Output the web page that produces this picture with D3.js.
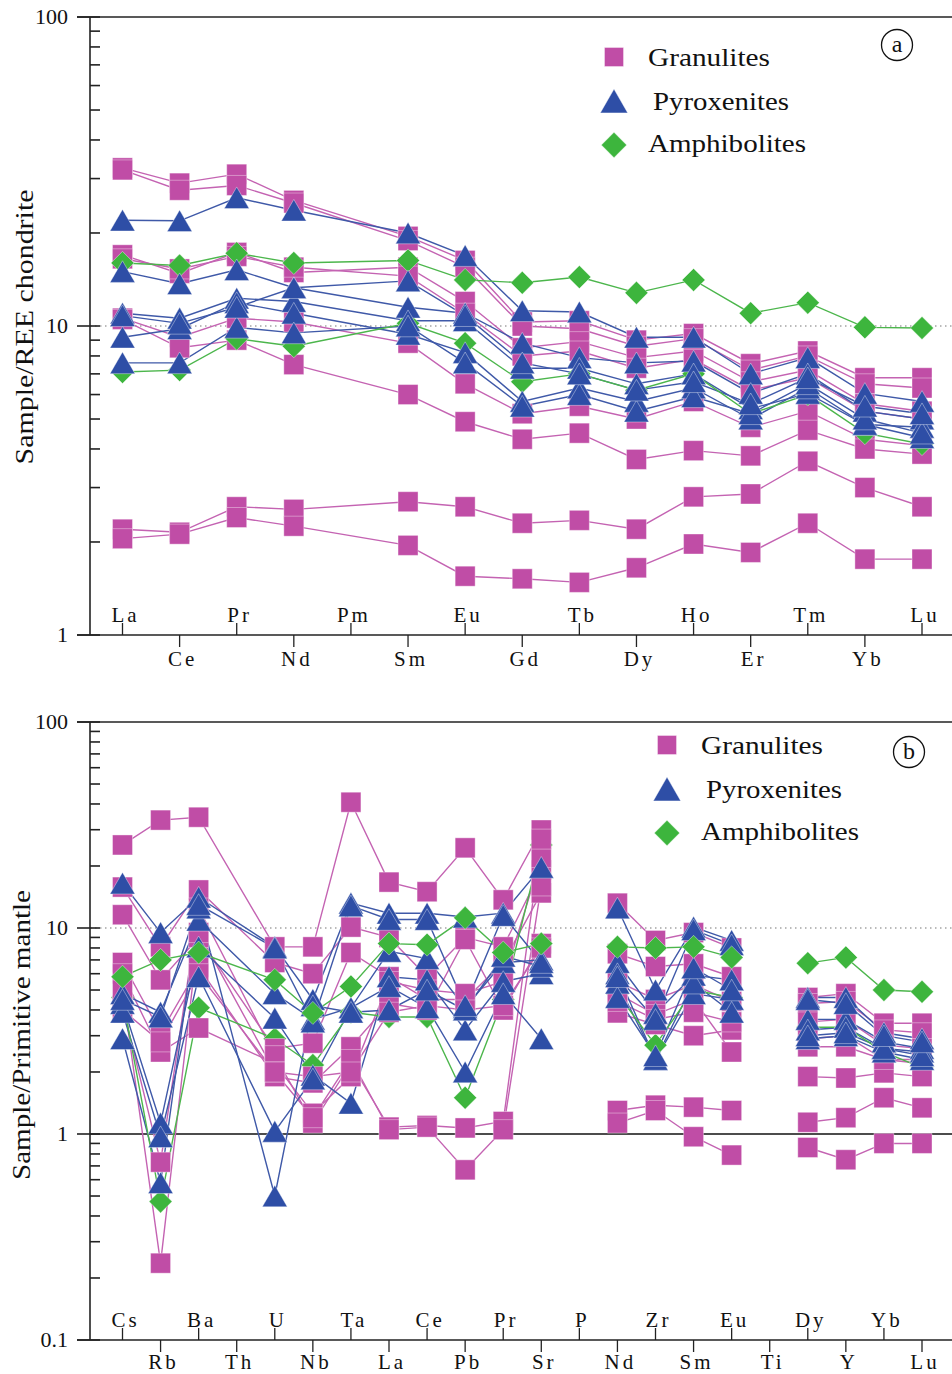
<!DOCTYPE html>
<html><head><meta charset="utf-8">
<script src="https://cdn.jsdelivr.net/npm/d3@7"></script>
<style>
body{margin:0;background:#fff}
svg{display:block}
text{font-family:"Liberation Serif","Times New Roman",serif;fill:#111}
</style></head>
<body><svg id="c" width="952" height="1374" font-family="Liberation Serif"></svg>
<script>
// ---------- Data ----------
const catsA = ["La","Ce","Pr","Nd","Pm","Sm","Eu","Gd","Tb","Dy","Ho","Er","Tm","Yb","Lu"];
const catsB = ["Cs","Rb","Ba","Th","U","Nb","Ta","La","Ce","Pb","Pr","Sr","P","Nd","Zr","Sm","Eu","Ti","Dy","Y","Yb","Lu"];
const breakCatsB = ["P","Ti"];

const yTicksA = [1, 10, 100];
const yTickLabelsA = ["1", "10", "100"];
const yTicksB = [0.1, 1, 10, 100];
const yTickLabelsB = ["0.1", "1", "10", "100"];

const legendNames = ["Granulites", "Pyroxenites", "Amphibolites"];

// Panel (a): chondrite-normalised REE
const granulitesA = [
  [32.5, 29, 31, 25.5, null, 19.5, 16.3, 10.3, 10.4, 9.0, 9.45, 7.55, 8.3, 6.8, 6.8],
  [32.0, 27.5, 28.5, 25.0, null, 18.9, 15.5, 10.0, 9.8, 8.6, 9.1, 7.2, 8.0, 6.5, 6.3],
  [17.0, 14.8, 17.3, 14.9, null, 15.5, 12.0, 8.5, 8.9, 7.9, 8.3, 6.6, 7.2, 5.6, 5.3],
  [16.5, 15.3, 16.8, 15.5, null, 14.5, 11.0, 8.0, 8.3, 7.3, 7.8, 6.2, 6.8, 5.3, 5.0],
  [10.6, 9.2, 10.6, 10.3, null, 8.8, 6.5, 5.2, 5.5, 5.0, 5.7, 4.7, 5.3, 4.3, 4.1],
  [10.5, 8.5, 9.0, 7.5, null, 6.0, 4.9, 4.3, 4.5, 3.7, 3.95, 3.8, 4.6, 4.0, 3.85],
  [2.2, 2.15, 2.6, 2.55, null, 2.7, 2.6, 2.3, 2.35, 2.2, 2.8, 2.86, 3.65, 3.0, 2.6],
  [2.05, 2.12, 2.4, 2.25, null, 1.95, 1.55, 1.52, 1.48, 1.65, 1.97, 1.85, 2.3, 1.76, 1.76]
];
const pyroxenitesA = [
  [22, 21.9, 26, 23.7, null, 20, 16.9, 11.2, 11.1, 9.2, 9.2, 7.0, 7.9, 6.05, 5.7],
  [15, 13.7, 15.2, 13.3, null, 11.5, 11.0, 8.8, 7.9, 7.6, 7.7, 6.05, 7.0, 5.3, 5.0],
  [11, 10.6, 12.3, 12.0, null, 10.4, 10.4, 7.3, 7.3, 6.5, 7.0, 5.4, 6.05, 4.8, 4.7],
  [9.2, 9.8, 11.9, 11.0, null, 9.4, 8.2, 5.7, 6.3, 5.7, 6.3, 5.0, 6.3, 4.8, 4.35],
  [7.6, 7.6, 9.9, 9.5, null, 10.0, 7.6, 5.5, 6.0, 5.3, 5.9, 5.2, 6.5, 5.0, 4.5],
  [10.8, 10.2, 11.5, 13.3, null, 14.0, 10.8, 7.6, 7.0, 6.2, 6.6, 5.6, 6.8, 5.5, 5.2]
];
const amphibolitesA = [
  [16, 15.7, 17.2, 16, null, 16.3, 14.1, 13.8, 14.4, 12.8, 14.1, 11, 11.9, 9.9, 9.85],
  [7.1, 7.2, 9.1, 8.6, null, 10.2, 8.8, 6.6, 7.0, 6.2, 7.0, 5.2, 6.0, 4.5, 4.15]
];

// Panel (b): primitive-mantle-normalised trace elements
const granulitesB = [
  [25.3, 33.4, 34.5, null, 8.1, 8.1, 40.8, 16.7, 15.0, 24.5, 13.7, 29.9, null, 13.2, 8.7, 9.5, 8.0, null, 4.6, 4.8, 3.45, 3.45],
  [15.8, 8.1, 15.3, null, 6.8, 6.0, 10.1, 9.0, 5.8, 9.0, 8.1, 19.1, null, 7.5, 6.5, 6.7, 5.8, null, 4.3, 4.4, 3.2, 3.1],
  [11.6, 5.6, 9.0, null, 2.6, 2.76, 7.6, 5.8, 4.5, 4.5, 6.8, 14.8, null, 5.5, 4.5, 5.3, 4.4, null, 3.5, 3.6, 2.7, 2.6],
  [6.8, 3.1, 6.45, null, 1.9, 1.77, 2.65, 4.3, 4.0, 8.8, 4.0, 8.4, null, 3.87, 3.4, 3.0, 3.2, null, 2.65, 2.65, 2.3, 2.2],
  [6.0, 2.5, 3.27, null, 2.2, 1.26, 1.9, 5.5, 5.0, 4.8, 5.5, 22, null, 4.8, 3.8, 4.5, 2.5, null, 1.9, 1.87, 1.98, 1.9],
  [4.2, 0.73, 12.5, null, 2.4, 1.13, 2.2, 1.08, 1.1, 1.07, 1.15, 27, null, 1.3, 1.38, 1.35, 1.3, null, 1.14, 1.2, 1.5, 1.34],
  [5.0, 0.236, 9.5, null, 2.0, 1.2, 2.3, 1.05, 1.08, 0.67, 1.05, 16, null, 1.13, 1.3, 0.97, 0.79, null, 0.86, 0.75, 0.9, 0.9],
  [4.0, 2.8, 6.0, null, 2.0, 1.9, 2.0, 3.9, 4.2, 4.0, 4.2, 8.0, null, 4.4, 3.6, 3.9, 3.5, null, 2.9, 3.0, 2.3, 2.3]
];
const pyroxenitesB = [
  [16.5, 9.5, 14.1, null, 8.1, 4.5, 13.2, 11.8, 11.8, 11.3, 11.8, 19.7, null, 12.5, 5.0, 10.1, 8.7, null, 4.6, 4.6, 3.1, 2.9],
  [4.8, 3.9, 10.9, null, 4.8, 3.6, 4.1, 7.7, 7.1, 4.1, 6.8, 7.0, null, 6.8, 3.85, 5.9, 5.6, null, 3.6, 3.6, 2.8, 2.6],
  [4.3, 1.13, 8.1, null, 3.65, 1.93, 1.41, 5.8, 5.6, 3.2, 5.5, 6.0, null, 6.0, 2.3, 4.8, 4.5, null, 3.2, 3.3, 2.6, 2.5],
  [3.9, 0.97, 5.8, null, 1.03, 1.85, 4.1, 5.2, 4.1, 2.0, 4.8, 2.9, null, 5.4, 2.3, 5.4, 3.9, null, 2.9, 3.0, 2.5, 2.3],
  [2.9, 0.58, 12.5, null, 0.5, 4.2, 3.9, 4.0, 5.0, 4.0, 7.3, 6.5, null, 4.6, 2.4, 6.4, 5.0, null, 3.0, 3.1, 2.6, 2.4],
  [4.5, 3.7, 13.0, null, 8.0, 3.5, 12.8, 11.0, 11.0, 4.2, 11.5, 6.8, null, 5.8, 3.6, 9.8, 8.3, null, 4.5, 4.3, 3.0, 2.8]
];
const amphibolitesB = [
  [5.8, 7.0, 7.6, null, 5.6, 3.87, 5.2, 8.4, 8.3, 11.2, 7.6, 8.4, null, 8.1, 8.0, 8.1, 7.2, null, 6.75, 7.2, 5.0, 4.9],
  [4.6, 0.47, 4.1, null, 2.9, 2.16, 3.9, 3.7, 3.7, 1.5, 4.5, 25.3, null, 4.8, 2.7, 5.0, 4.6, null, 3.3, 3.3, 2.5, 2.1]
];

// ---------- Styles ----------
const style = {
  gran: {fill: "#C04DA6", line: "#C463B2"},
  pyro: {fill: "#2E4EA6", line: "#3F59A8"},
  amph: {fill: "#3DB53D", line: "#4CB64C"}
};
const symSquare = d3.symbol(d3.symbolSquare, 400)();
const symTri = d3.symbol(d3.symbolTriangle, 270)();
const symDia = d3.symbol(d3.symbolSquare, 265)();
const triOff = Math.sqrt(4 * 270 / Math.sqrt(3)) * Math.sqrt(3) / 2 / 6;

const svg = d3.select("#c");

function marker(g, kind, x, y, scale) {
  scale = scale || 1;
  const p = g.append("path").attr("fill", style[kind].fill)
    .attr("stroke", "rgba(255,255,255,0.55)").attr("stroke-width", 0.7);
  if (kind === "gran") p.attr("d", symSquare).attr("transform", `translate(${x},${y}) scale(${scale})`);
  if (kind === "pyro") p.attr("d", symTri).attr("transform", `translate(${x},${y + triOff * scale}) scale(${scale})`);
  if (kind === "amph") p.attr("d", symDia).attr("transform", `translate(${x},${y}) scale(${scale}) rotate(45)`);
}

function drawPanel(o) {
  const g = svg.append("g");
  const x = d3.scalePoint().domain(o.cats).range([122.5, 922]);
  const y = d3.scaleLog().domain([o.ymin, 100]).range([o.bottom, o.top]);

  // reference lines
  g.append("line").attr("x1", 90).attr("x2", 952).attr("y1", y(10)).attr("y2", y(10))
    .attr("stroke", "#777").attr("stroke-width", 1.2).attr("stroke-dasharray", "1.5,3.5");
  if (o.line1) g.append("line").attr("x1", 90).attr("x2", 952).attr("y1", y(1)).attr("y2", y(1))
    .attr("stroke", "#111").attr("stroke-width", 1.5);

  // frame
  const ax = g.append("g").attr("stroke", "#222").attr("stroke-width", 1.6);
  ax.append("line").attr("x1", 77).attr("x2", 952).attr("y1", o.top).attr("y2", o.top);
  ax.append("line").attr("x1", 77).attr("x2", 952).attr("y1", o.bottom).attr("y2", o.bottom);
  ax.append("line").attr("x1", 90).attr("x2", 90).attr("y1", o.top).attr("y2", o.bottom);

  // y minor / major ticks
  const minors = [];
  for (let d = o.ymin; d < 100; d *= 10) for (let k = 2; k <= 9; k++) minors.push(k * d);
  ax.selectAll(".mn").data(minors).join("line")
    .attr("x1", 90).attr("x2", 100).attr("y1", d => y(d)).attr("y2", d => y(d));
  ax.selectAll(".mj").data(o.yTicks).join("line")
    .attr("x1", 77).attr("x2", 100).attr("y1", d => y(d)).attr("y2", d => y(d));
  g.selectAll(".yl").data(o.yTicks).join("text")
    .attr("x", 68).attr("y", d => y(d)).attr("dy", "0.34em")
    .attr("text-anchor", "end").attr("font-size", 22)
    .text((d, i) => o.yLabels[i]);

  // x ticks & labels (alternating above/below)
  o.cats.forEach((c, i) => {
    const up = i % 2 === 0;
    ax.append("line").attr("x1", x(c)).attr("x2", x(c))
      .attr("y1", o.bottom).attr("y2", up ? o.bottom - 12 : o.bottom + 12)
      .attr("stroke-width", 1.3);
    g.append("text").attr("x", x(c) + 3).attr("y", up ? o.bottom - 13 : o.bottom + o.belowOff)
      .attr("text-anchor", "middle").attr("font-size", 21).attr("letter-spacing", 3)
      .text(c);
  });

  // y title
  g.append("text").attr("transform", `translate(${o.titleX},${o.titleY}) rotate(-90)`)
    .attr("text-anchor", "middle").attr("font-size", 26)
    .attr("textLength", o.titleLen).attr("lengthAdjust", "spacingAndGlyphs")
    .text(o.title);

  const sets = {gran: o.gran, pyro: o.pyro, amph: o.amph};

  // series lines
  const line = d3.line().defined(d => d.v != null).x(d => x(d.c)).y(d => y(d.v));
  const lg = g.append("g").attr("fill", "none");
  ["gran", "pyro", "amph"].forEach(kind => {
    sets[kind].forEach(vals => {
      const pts = o.cats.map((c, i) => ({c, v: vals[i]}))
        .filter(d => d.v != null || (o.breaks || []).includes(d.c));
      lg.append("path").attr("d", line(pts)).attr("stroke", style[kind].line).attr("stroke-width", 1.4);
    });
  });

  // markers, drawn in the given order of [group, sample indices]
  const mg = g.append("g");
  o.order.forEach(([kind, idx]) => {
    const arr = sets[kind];
    (idx || d3.range(arr.length)).forEach(si => arr[si].forEach((v, i) => {
      if (v != null) marker(mg, kind, x(o.cats[i]), y(v));
    }));
  });

  // legend
  const leg = g.append("g").attr("transform", `translate(${o.legDX},${o.legDY})`);
  const legY = [57, 101, 145];
  const legTextX = [648, 653, 648];
  const legBase = [66, 110, 152];
  const legLen = [122, 136, 158];
  ["gran", "pyro", "amph"].forEach((k, i) => {
    marker(leg, k, 614, legY[i], k === "gran" ? 0.95 : 1.1);
    leg.append("text").attr("x", legTextX[i]).attr("y", legBase[i]).attr("font-size", 25)
      .attr("textLength", legLen[i]).attr("lengthAdjust", "spacingAndGlyphs").text(legendNames[i]);
  });

  // circled panel letter
  g.append("circle").attr("cx", o.cx).attr("cy", o.cy).attr("r", 15.5)
    .attr("fill", "none").attr("stroke", "#111").attr("stroke-width", 1.3);
  g.append("text").attr("x", o.cx).attr("y", o.cy).attr("dy", "0.3em")
    .attr("text-anchor", "middle").attr("font-size", 24).text(o.letter);
}

drawPanel({
  cats: catsA, top: 17, bottom: 635, ymin: 1, yTicks: yTicksA, yLabels: yTickLabelsA,
  gran: granulitesA, pyro: pyroxenitesA, amph: amphibolitesA,
  order: [["gran"], ["amph"], ["pyro"]], line1: false, belowOff: 31,
  title: "Sample/REE chondrite", titleX: 33, titleY: 327, titleLen: 275,
  legDX: 0, legDY: 0, cx: 897, cy: 45, letter: "a"
});
drawPanel({
  cats: catsB, top: 722, bottom: 1340, ymin: 0.1, yTicks: yTicksB, yLabels: yTickLabelsB,
  breaks: breakCatsB,
  gran: granulitesB, pyro: pyroxenitesB, amph: amphibolitesB,
  order: [["amph", [1]], ["gran"], ["pyro"], ["amph", [0]]], line1: true, belowOff: 29,
  title: "Sample/Primitive mantle", titleX: 30, titleY: 1035, titleLen: 290,
  legDX: 53, legDY: 688, cx: 909, cy: 752, letter: "b"
});
</script></body></html>
